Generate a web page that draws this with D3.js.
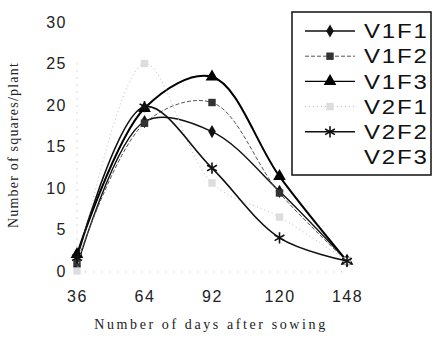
<!DOCTYPE html>
<html>
<head>
<meta charset="utf-8">
<script src="https://cdn.jsdelivr.net/npm/d3@7"></script>
<style>
  html, body { margin: 0; padding: 0; background: #fff; }
</style>
</head>
<body>
<div id="container"></div>
<script>
const days = [36, 64, 92, 120, 148];
const yTicks = [0, 5, 10, 15, 20, 25, 30];

const v1f1 = [0.5, 18.0, 16.8, 9.6, 1.2];
const v1f2 = [1.0, 17.8, 20.3, 9.4, 1.2];
const v1f3 = [2.0, 19.6, 23.4, 11.4, 1.2];
const v2f1 = [0.0, 25.0, 10.6, 6.5, 1.2];
const v2f2 = [1.6, 19.8, 12.4, 4.0, 1.2];
const v2f3 = [];

const seriesNames = ["V1F1", "V1F2", "V1F3", "V2F1", "V2F2", "V2F3"];
const seriesValues = [v1f1, v1f2, v1f3, v2f1, v2f2, v2f3];

const width = 433;
const height = 345;

const styles = {
    V1F1: {stroke: "#111", width: 1.4, dash: null, symbol: d3.symbolDiamond, size: 50, fill: "#111"},
    V1F2: {stroke: "#555", width: 1, dash: "4,2", symbol: d3.symbolSquare, size: 55, fill: "#333"},
    V1F3: {stroke: "#000", width: 2, dash: null, symbol: d3.symbolTriangle, size: 70, fill: "#000"},
    V2F1: {stroke: "#bbb", width: 1, dash: "1,3", symbol: d3.symbolSquare, size: 55, fill: "#ddd"},
    V2F2: {stroke: "#111", width: 1.6, dash: null, symbol: d3.symbolAsterisk, size: 90, fill: "none"},
    V2F3: {stroke: "none", width: 0, dash: null, symbol: null, size: 0, fill: "none"}
};

const svg = d3.create("svg")
    .attr("width", width)
    .attr("height", height)
    .style("display", "block")
    .style("background", "#fff");

const x = d3.scaleLinear().domain([36, 148]).range([77, 347]);
const y = d3.scaleLinear().domain([0, 30]).range([271, 22]);

// faint dotted axes as in the scan
svg.append("line")
    .attr("x1", x(36)).attr("x2", x(36))
    .attr("y1", y(25)).attr("y2", y(0))
    .attr("stroke", "#bbb")
    .attr("stroke-dasharray", "1,6");
svg.append("line")
    .attr("x1", x(36)).attr("x2", x(148))
    .attr("y1", y(0) + 1).attr("y2", y(0) + 1)
    .attr("stroke", "#bbb")
    .attr("stroke-dasharray", "1,7");

const yAxis = svg.append("g")
    .attr("transform", `translate(${x(36) - 10},0)`)
    .call(d3.axisLeft(y).tickValues(yTicks).tickSize(0).tickPadding(0));
yAxis.select(".domain").remove();
yAxis.selectAll("text")
    .attr("font-family", "Liberation Sans, Arial, sans-serif")
    .attr("font-size", "16px")
    .attr("letter-spacing", "1.5px")
    .attr("fill", "#222");

const xAxis = svg.append("g")
    .attr("transform", `translate(0,${y(0) + 20})`)
    .call(d3.axisBottom(x).tickValues(days).tickSize(0).tickPadding(0).tickFormat(d3.format("d")));
xAxis.select(".domain").remove();
xAxis.selectAll("text")
    .attr("font-family", "Liberation Sans, Arial, sans-serif")
    .attr("font-size", "16px")
    .attr("letter-spacing", "1.5px")
    .attr("fill", "#222");

const line = d3.line()
    .x((v, i) => x(days[i]))
    .y(v => y(v))
    .curve(d3.curveCatmullRom.alpha(0.5));

seriesNames.forEach((name, k) => {
    const st = styles[name];
    const vals = seriesValues[k];
    if (!vals.length) return;
    svg.append("path")
        .datum(vals)
        .attr("d", line)
        .attr("fill", "none")
        .attr("stroke", st.stroke)
        .attr("stroke-width", st.width)
        .attr("stroke-dasharray", st.dash);
    svg.selectAll(`path.mark-${name}`)
        .data(vals)
        .enter()
        .append("path")
        .attr("class", `mark-${name}`)
        .attr("transform", (v, i) => `translate(${x(days[i])},${y(v)})`)
        .attr("d", d3.symbol().type(st.symbol).size(st.size))
        .attr("fill", st.fill)
        .attr("stroke", st.fill === "none" ? st.stroke : "none")
        .attr("stroke-width", 1.6);
});

// legend
const legend = svg.append("g").attr("transform", "translate(292,12)");
legend.append("rect")
    .attr("width", 139)
    .attr("height", 163)
    .attr("fill", "#fff")
    .attr("stroke", "#111")
    .attr("stroke-width", 1.5);

const rowY = d3.scalePoint().domain(seriesNames).range([19, 145]);

seriesNames.forEach(name => {
    const st = styles[name];
    const g = legend.append("g").attr("transform", `translate(0,${rowY(name)})`);
    if (st.symbol) {
        g.append("line")
            .attr("x1", 13).attr("x2", 63)
            .attr("stroke", st.stroke)
            .attr("stroke-width", Math.min(st.width, 1.4))
            .attr("stroke-dasharray", st.dash);
        g.append("path")
            .attr("transform", "translate(38,0)")
            .attr("d", d3.symbol().type(st.symbol).size(st.size))
            .attr("fill", st.fill)
            .attr("stroke", st.fill === "none" ? st.stroke : "none")
            .attr("stroke-width", 1.6);
    }
    g.append("text")
        .attr("transform", "translate(72,0) scale(1.2,1)")
        .attr("dy", "0.36em")
        .attr("font-family", "Liberation Sans, Arial, sans-serif")
        .attr("font-size", "20px")
        .attr("letter-spacing", "1.5px")
        .attr("fill", "#111")
        .text(name);
});

svg.append("text")
    .attr("x", 211)
    .attr("y", 329)
    .attr("text-anchor", "middle")
    .attr("font-family", "Liberation Serif, Times New Roman, serif")
    .attr("font-size", "14px")
    .attr("letter-spacing", "2.6px")
    .attr("fill", "#222")
    .text("Number of days after sowing");

svg.append("text")
    .attr("transform", "translate(18,145) rotate(-90)")
    .attr("text-anchor", "middle")
    .attr("font-family", "Liberation Serif, Times New Roman, serif")
    .attr("font-size", "14px")
    .attr("letter-spacing", "1.2px")
    .attr("fill", "#222")
    .text("Number of squares/plant");

d3.select("#container").append(() => svg.node());
</script>
</body>
</html>
